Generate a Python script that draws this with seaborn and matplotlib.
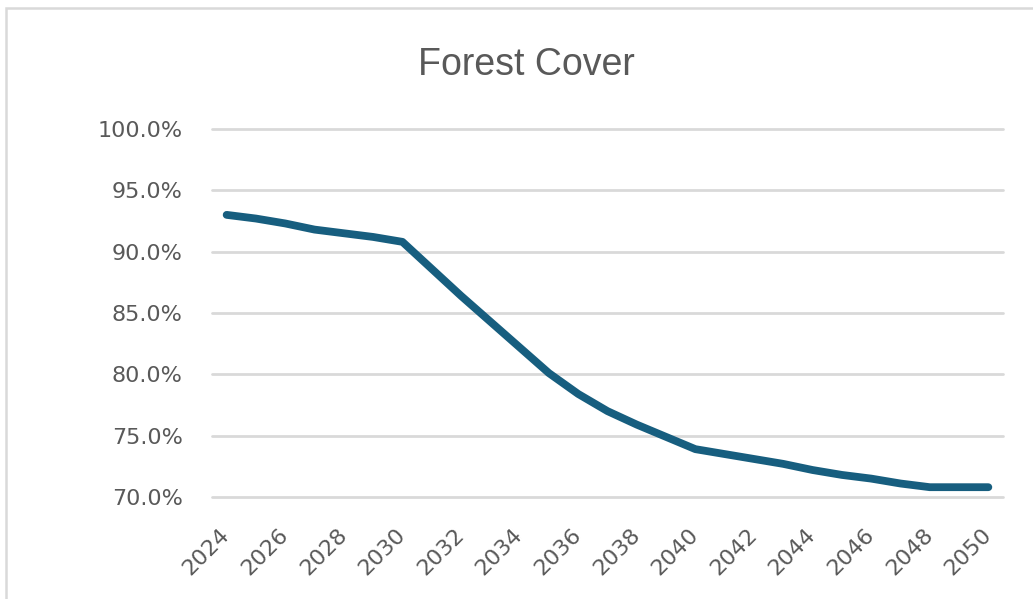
import pandas as pd
import matplotlib.pyplot as plt
import seaborn as sns
from matplotlib.patches import Rectangle
from matplotlib.ticker import PercentFormatter

years = list(range(2024, 2051))
forest_cover = [93.0, 92.7, 92.3, 91.8, 91.5, 91.2, 90.8, 88.6, 86.4, 84.3,
                82.2, 80.1, 78.4, 77.0, 75.9, 74.9, 73.9, 73.5, 73.1, 72.7,
                72.2, 71.8, 71.5, 71.1, 70.8, 70.8, 70.8]
year_ticks = list(range(2024, 2051, 2))
y_ticks = [70, 75, 80, 85, 90, 95, 100]

df = pd.DataFrame({'year': years, 'cover': forest_cover})

sns.set_style('white')
plt.rcParams['font.family'] = ['DejaVu Sans']
text_grey = '#595959'
grid_grey = '#d9d9d9'

fig = plt.figure(figsize=(10.33, 5.99), dpi=100)
ax = fig.add_axes([212 / 1033, 1 - 497 / 599, (1003 - 212) / 1033, (497 - 129) / 599])

sns.lineplot(data=df, x='year', y='cover', ax=ax, color='#175e7f',
             linewidth=5.6, solid_capstyle='round', solid_joinstyle='round', zorder=3)

ax.set_xlim(2023.5, 2050.5)
ax.set_ylim(70, 100)
ax.set_yticks(y_ticks)
ax.yaxis.set_major_formatter(PercentFormatter(decimals=1))
ax.set_xticks(year_ticks)
ax.set_xticklabels([str(y) for y in year_ticks], rotation=45, ha='right',
                   va='center', rotation_mode='anchor')
ax.tick_params(axis='y', length=0, pad=21, labelsize=16, labelcolor=text_grey)
ax.tick_params(axis='x', length=0, pad=25, labelsize=16, labelcolor=text_grey)
ax.grid(axis='y', color=grid_grey, linewidth=2.0)
ax.grid(axis='x', visible=False)
for gl in ax.get_ygridlines():
    gl.set_clip_on(False)
sns.despine(ax=ax, left=True, bottom=True)
ax.set_xlabel('')
ax.set_ylabel('')

fig.text(526 / 1033, 1 - 75 / 599, 'Forest Cover', ha='center', va='baseline',
         fontsize=27, color=text_grey, family=['Liberation Sans', 'DejaVu Sans'])

# chart area border
fig.patches.append(Rectangle((6 / 1033, -0.1), 1.2, 1 - 8 / 599 + 0.1,
                             transform=fig.transFigure, fill=False,
                             edgecolor=grid_grey, linewidth=1.8))

fig.savefig('out.png', dpi=100, facecolor='white')
